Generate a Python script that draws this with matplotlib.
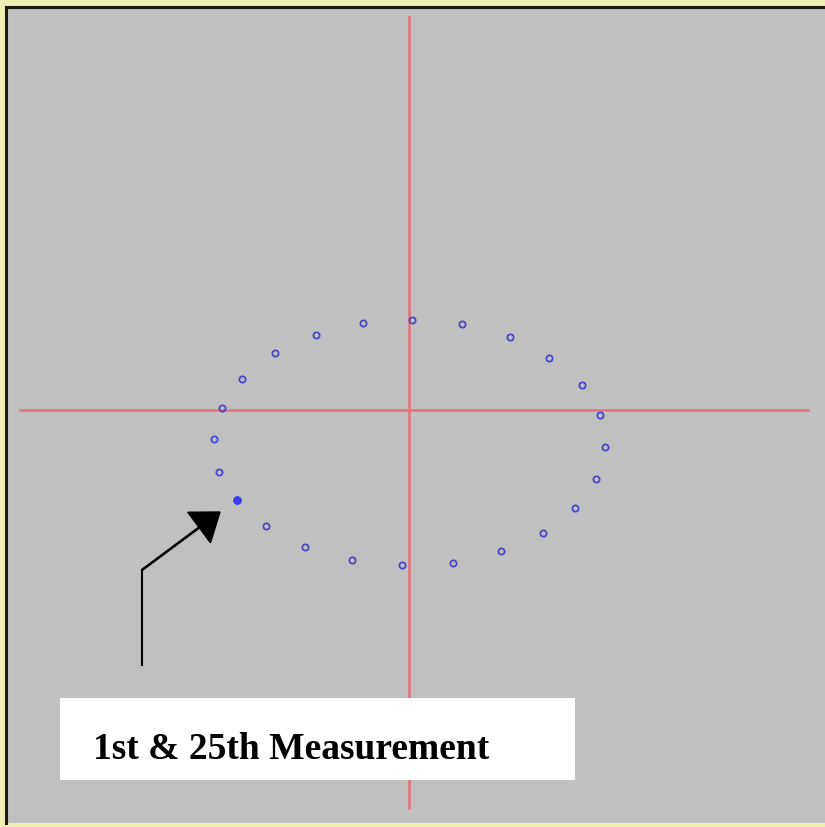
import matplotlib
matplotlib.use("Agg")
import matplotlib.pyplot as plt
from matplotlib.patches import Rectangle

# measured positions, offset from the centre cross (x right, y up)
x_meas = [-172, -143, -104, -57, -7, 44, 92, 134, 166, 187, 196, 191,
          173, 140, 101, 53, 3, -46, -93, -134, -167, -187, -195, -190, -172]
y_meas = [-90, -116, -137, -150, -155, -153, -141, -123, -98, -69, -37, -5,
          25, 52, 73, 86, 90, 87, 75, 57, 31, 2, -29, -62, -90]

label = "1st & 25th Measurement"

fig = plt.figure(figsize=(8.25, 8.27), dpi=100)
fig.patch.set_facecolor("#efeeb4")
ax = fig.add_axes([6 / 825, 4 / 827, 819 / 825, 816 / 827])
ax.set_facecolor("#c0c0c0")
ax.set_xlim(-403, 416)
ax.set_ylim(-413, 403)
ax.set_xticks([])
ax.set_yticks([])
for s in ["right", "bottom"]:
    ax.spines[s].set_visible(False)
for s in ["left", "top"]:
    ax.spines[s].set_color("#1a1a10")
    ax.spines[s].set_linewidth(2.2)

# cross hair
ax.plot([0, 0], [393, -398], color="#e8707a", lw=1.8, zorder=1)
ax.plot([-389, 399], [0, 0], color="#e8707a", lw=1.8, zorder=1)

# measurements
ax.plot(x_meas, y_meas, ls="none", marker="o", ms=4.5, mfc="none",
        mec="#4a46c8", mew=1.3, zorder=3)
ax.plot(x_meas[0], y_meas[0], ls="none", marker="o", ms=5, mfc="#3c3cf0",
        mec="#3c3cf0", zorder=4)

# arrow pointing to first point
ax.plot([-267, -267], [-255, -160], color="black", lw=1.5, zorder=2)
ax.arrow(-267, -160, 78, 58, width=1.2, head_width=38, head_length=26,
         length_includes_head=True, color="black", zorder=2)

# label box
ax.add_patch(Rectangle((-349, -370), 515, 82, facecolor="white",
                       edgecolor="none", zorder=5))
ax.text(-316, -349, label, fontsize=27, fontweight="bold",
        family="Liberation Serif", va="baseline", ha="left", zorder=6)

fig.savefig("out.png", dpi=100, facecolor=fig.get_facecolor())
